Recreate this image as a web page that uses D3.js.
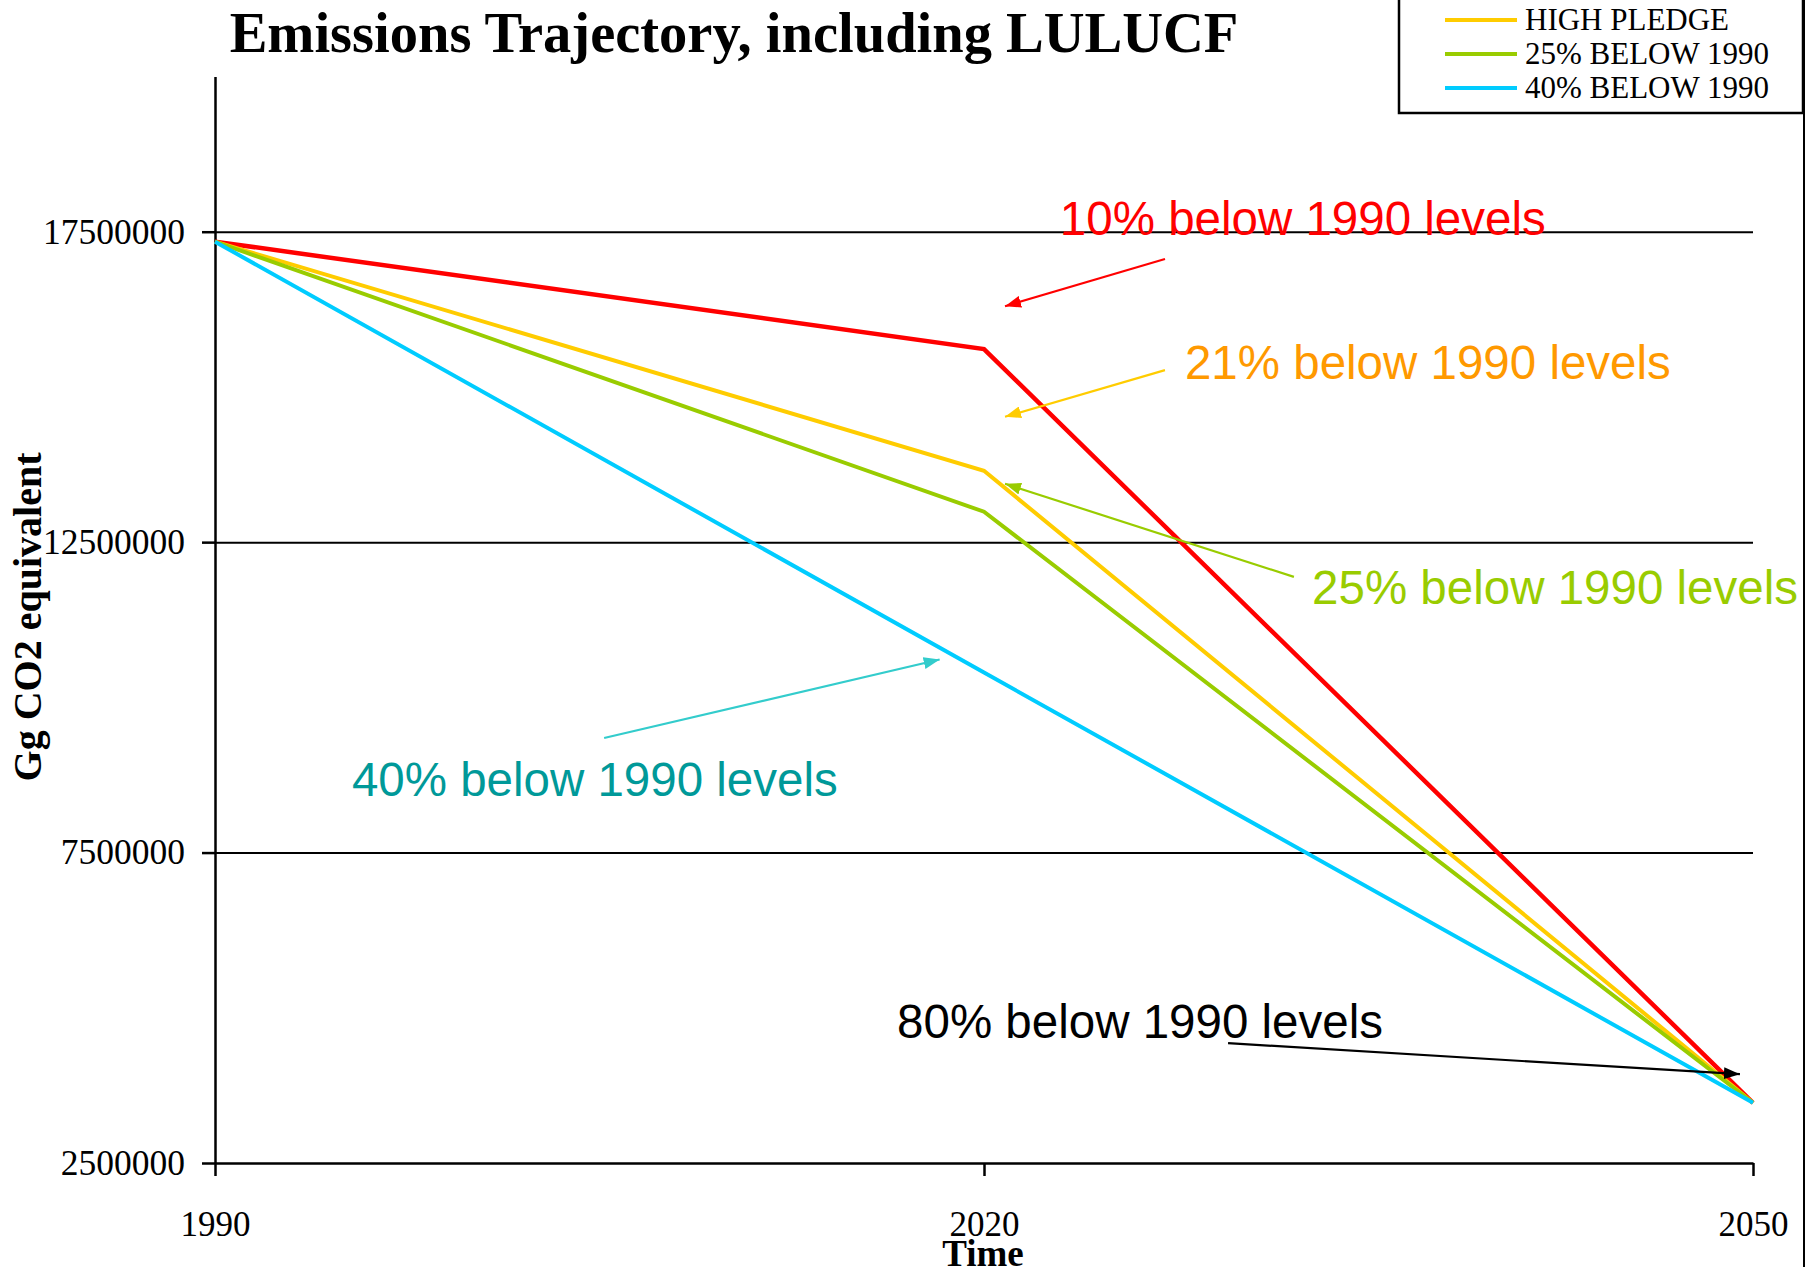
<!DOCTYPE html>
<html>
<head>
<meta charset="utf-8">
<script src="https://cdn.jsdelivr.net/npm/d3@7/dist/d3.min.js"></script>
<style>
  html, body { margin: 0; padding: 0; background: #fff; }
  svg { display: block; }
</style>
</head>
<body>
<svg id="chart" width="1808" height="1267"></svg>
<script>
// ---- data ----
const years = [1990, 2020, 2050];
const seriesNames = ["10% BELOW 1990", "HIGH PLEDGE", "25% BELOW 1990", "40% BELOW 1990"];
const seriesColors = ["#FF0000", "#FFCC00", "#99CC00", "#00CCFF"];
const red10 = [17340000, 15610000, 3470000];
const highPledge = [17340000, 13650000, 3470000];
const below25 = [17340000, 12990000, 3470000];
const below40 = [17340000, 10400000, 3470000];
const seriesValues = [red10, highPledge, below25, below40];
const yTicks = [2500000, 7500000, 12500000, 17500000];
const xTicks = [1990, 2020, 2050];
const legendNames = ["HIGH PLEDGE", "25% BELOW 1990", "40% BELOW 1990"];
const legendColors = ["#FFCC00", "#99CC00", "#00CCFF"];

// annotations in data space: text anchor, arrow start, arrow end
const annoTexts = ["10% below 1990 levels", "21% below 1990 levels", "25% below 1990 levels", "40% below 1990 levels", "80% below 1990 levels"];
const annoTextColors = ["#FF0000", "#FF9900", "#99CC00", "#009999", "#000000"];
const annoArrowColors = ["#FF0000", "#FFCC00", "#99CC00", "#33CCCC", "#000000"];
const annoTextPos = [[2022.96, 17450000], [2027.84, 15130000], [2032.80, 11500000], [1995.34, 8410000], [2016.61, 4510000]];
const annoFrom = [[2027.06, 17060000], [2027.06, 15270000], [2032.09, 11940000], [2005.18, 9345000], [2029.52, 4430000]];
const annoTo = [[2020.82, 16300000], [2020.82, 14520000], [2020.82, 13440000], [2018.27, 10610000], [2049.49, 3930000]];

(function () {
// ---- layout ----
const svg = d3.select("#chart");
const mLeft = 215, mRight = 1753, mTop = 76.5, mBottom = 1163;
const x = d3.scaleLinear().domain([1990, 2050]).range([mLeft, mRight]);
const y = d3.scaleLinear().domain([2500000, 20000000]).range([mBottom, mTop]);

const serif = "'Liberation Serif', 'Times New Roman', Times, serif";
const sans = "'Liberation Sans', Arial, Helvetica, sans-serif";

// gridlines
const grid = svg.append("g").attr("transform", `translate(${mLeft},0)`)
  .call(d3.axisLeft(y).tickValues(yTicks.slice(1)).tickSize(-(mRight - mLeft)).tickFormat(""));
grid.select(".domain").remove();
grid.selectAll("line").attr("stroke", "#000").attr("stroke-width", 2);

// y axis
const yAxis = svg.append("g").attr("transform", `translate(${mLeft},0)`)
  .call(d3.axisLeft(y).tickValues(yTicks).tickSize(13).tickSizeOuter(0).tickPadding(17).tickFormat(d3.format("d")));
yAxis.select(".domain").attr("stroke", "#000").attr("stroke-width", 2.5);
yAxis.selectAll(".tick line").attr("stroke", "#000").attr("stroke-width", 2.5);
yAxis.selectAll("text").attr("font-family", serif).attr("font-size", 35.5).attr("fill", "#000");

// x axis
const xAxis = svg.append("g").attr("transform", `translate(0,${mBottom})`)
  .call(d3.axisBottom(x).tickValues(xTicks).tickSize(13).tickSizeOuter(0).tickPadding(0).tickFormat(d3.format("d")));
xAxis.select(".domain").attr("stroke", "#000").attr("stroke-width", 2.5);
xAxis.selectAll(".tick line").attr("stroke", "#000").attr("stroke-width", 2.5);
xAxis.selectAll("text").attr("font-family", serif).attr("font-size", 35).attr("fill", "#000")
  .attr("dy", null).attr("y", 73);

// series lines
const line = d3.line().x((d, i) => x(years[i])).y(d => y(d));
seriesValues.forEach((vals, i) => {
  svg.append("path").datum(vals)
    .attr("d", line)
    .attr("fill", "none")
    .attr("stroke", seriesColors[i])
    .attr("stroke-width", i === 0 ? 4.5 : 4)
    .attr("stroke-linejoin", "miter");
});

// arrow markers
const defs = svg.append("defs");
annoArrowColors.forEach((c, i) => {
  defs.append("marker")
    .attr("id", "arrow" + i)
    .attr("markerUnits", "userSpaceOnUse")
    .attr("viewBox", "0 0 16 12")
    .attr("refX", 16).attr("refY", 6)
    .attr("markerWidth", 16).attr("markerHeight", 12)
    .attr("orient", "auto")
    .append("path").attr("d", "M0,0 L16,6 L0,12 Z").attr("fill", c);
});

// annotation arrows and labels
annoTexts.forEach((t, i) => {
  svg.append("line")
    .attr("x1", x(annoFrom[i][0])).attr("y1", y(annoFrom[i][1]))
    .attr("x2", x(annoTo[i][0])).attr("y2", y(annoTo[i][1]))
    .attr("stroke", annoArrowColors[i]).attr("stroke-width", 2.2)
    .attr("marker-end", `url(#arrow${i})`);
  svg.append("text")
    .attr("x", x(annoTextPos[i][0])).attr("y", y(annoTextPos[i][1]))
    .attr("font-family", sans).attr("font-size", 47.5)
    .attr("fill", annoTextColors[i])
    .text(t);
});

// title
svg.append("text").attr("x", 734).attr("y", 52)
  .attr("text-anchor", "middle")
  .attr("font-family", serif).attr("font-weight", "bold").attr("font-size", 56.5)
  .text("Emissions Trajectory, including LULUCF");

// axis titles
svg.append("text").attr("transform", "translate(41,617) rotate(-90)")
  .attr("text-anchor", "middle")
  .attr("font-family", serif).attr("font-weight", "bold").attr("font-size", 40)
  .text("Gg CO2 equivalent");
svg.append("text").attr("x", 983).attr("y", 1266)
  .attr("text-anchor", "middle")
  .attr("font-family", serif).attr("font-weight", "bold").attr("font-size", 37)
  .text("Time");

// right frame line
svg.append("line").attr("x1", 1804).attr("x2", 1804).attr("y1", 0).attr("y2", 1267)
  .attr("stroke", "#000").attr("stroke-width", 2);

// legend (top clipped by page edge)
const lg = svg.append("g");
lg.append("rect").attr("x", 1399).attr("y", -40).attr("width", 404).attr("height", 153)
  .attr("fill", "#fff").attr("stroke", "#000").attr("stroke-width", 2.5);
legendNames.forEach((n, i) => {
  const cy = 20 + i * 34;
  lg.append("line").attr("x1", 1445).attr("x2", 1517).attr("y1", cy).attr("y2", cy)
    .attr("stroke", legendColors[i]).attr("stroke-width", 4);
  lg.append("text").attr("x", 1525).attr("y", cy + 10)
    .attr("font-family", serif).attr("font-size", 31).attr("fill", "#000")
    .text(n);
});
})();
</script>
</body>
</html>
